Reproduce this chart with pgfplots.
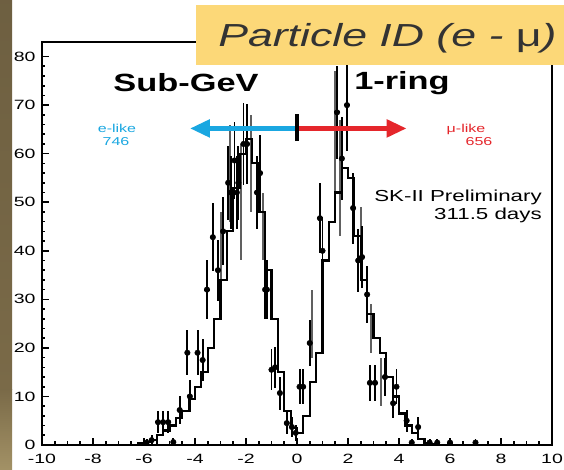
\documentclass[border=0pt]{standalone}
\usepackage{pgfplots}
\pgfplotsset{compat=1.18}
\usepackage{pgfplotstable}
\usepackage{fontspec}
\setmainfont{Liberation Sans}
\usetikzlibrary{arrows.meta}
\definecolor{elike}{HTML}{1AA7E1}
\definecolor{mulike}{HTML}{E5262B}
\definecolor{titlebox}{HTML}{FCD878}
\definecolor{marbleA}{HTML}{7A6A48}
\definecolor{marbleB}{HTML}{A39266}

% Monte Carlo expectation, left bin edges (width 0.25)
\pgfplotstableread{
x y
-7.00 0
-6.25 0.3
-6.00 0.6
-5.75 1.0
-5.50 2.0
-5.25 3.0
-5.00 4.0
-4.75 5.5
-4.50 7.0
-4.25 9.5
-4.00 12
-3.75 15
-3.50 20
-3.25 26
-3.00 34
-2.75 44
-2.50 53
-2.25 60
-2.00 63
-1.75 58
-1.50 48
-1.25 36
-1.00 26
-0.75 15
-0.50 7
-0.25 3.5
 0.00 2.5
 0.25 6
 0.50 13
 0.75 19
 1.00 38
 1.25 46
 1.50 52
 1.75 57
 2.00 55
 2.25 43
 2.50 34
 2.75 27
 3.00 22
 3.25 19
 3.50 14
 3.75 10
 4.00 6.5
 4.25 4
 4.50 2.5
 4.75 1.2
 5.00 0.4
 5.25 0.1
 5.50 0
10.00 0
}\mchist

% SK-II data points
\pgfplotstableread{
x y ex ey
-5.90 0.5 0.1 0.7
-5.70 1.0 0.1 1.0
-5.45 4.7 0.1 2.3
-5.25 4.7 0.1 2.3
-5.05 4.7 0.1 2.3
-4.85 0.6 0.1 0.8
-4.60 7.2 0.1 2.8
-4.30 19 0.1 4.6
-4.20 10 0.1 3.3
-3.90 19 0.1 4.6
-3.70 17.5 0.1 4.4
-3.53 32 0.1 6
-3.30 42.8 0.1 7
-3.10 36 0.1 6.3
-2.90 44 0.1 7
-2.70 54 0.1 7.6
-2.60 52 0.1 7.5
-2.45 58.6 0.1 8
-2.36 52 0.1 7.5
-2.30 54 0.1 7.6
-2.10 62 0.1 8.5
-1.96 62 0.1 8.2
-1.57 52 0.1 7.5
-1.45 56 0.1 7.8
-1.25 32 0.1 6
-1.18 32 0.1 6
-1.00 15.5 0.1 4.2
-0.86 16 0.1 4.2
-0.67 10.7 0.1 3.4
-0.40 4.5 0.1 2.3
-0.20 3.7 0.1 2.0
-0.05 2.5 0.1 1.7
 0.10 12 0.1 3.6
 0.24 12 0.1 3.6
 0.50 21 0.1 4.8
 0.90 46.7 0.1 7.2
 1.00 40 0.1 6.6
 1.57 68.5 0.1 9.5
 1.76 59 0.1 8.5
 1.96 70 0.1 9.5
 2.20 48.8 0.1 7.3
 2.40 38 0.1 6.4
 2.55 38.7 0.1 6.4
 2.75 31 0.1 5.8
 2.86 12.8 0.1 3.7
 3.06 12.8 0.1 3.7
 3.45 14 0.1 3.9
 3.77 8.6 0.1 3.1
 3.90 12 0.1 3.6
 4.30 5 0.1 2.3
 4.50 0.5 0.1 0.7
 4.75 3.7 0.1 2.0
 5.20 0.5 0.1 0.7
 5.50 0.5 0.1 0.7
 6.00 0.5 0.1 0.7
 7.00 0.5 0.1 0.7
}\skdata

% overlapping data from the alternative selection
\pgfplotstableread{
x y ey
-3.00 40 8
-2.62 56 10
-2.20 50 12
-1.80 58 10
-1.35 45 7
 0.60 25 7
 1.50 62 15
 1.70 55 12
 2.50 42 7
 2.90 24 5
 3.30 13 5
}\altdata

\begin{document}
\begin{tikzpicture}
\useasboundingbox (0bp,0bp) rectangle (564bp,470bp);
\begin{scope}[x=1bp,y=1bp]
\fill[white] (0,0) rectangle (564,470);
% marbled slide border
\shade[top color=marbleA!90!black, bottom color=marbleA] (0,80) rectangle (12,470);
\shade[top color=marbleA, bottom color=marbleB] (0,0) rectangle (12,80);
\end{scope}

\begin{axis}[
  at={(42bp,25bp)}, anchor=south west,
  scale only axis, width=510bp, height=403bp,
  xmin=-10, xmax=10, ymin=0, ymax=83,
  tick pos=left, tick align=inside,
  xtick={-10,-8,...,10}, minor x tick num=3,
  xticklabels={-10,-8,-6,-4,-2,0,2,4,6,8,10},
  ytick={0,10,...,80}, minor y tick num=4,
  major tick length=7bp, minor tick length=3.5bp,
  every tick/.style={black, line width=1.6bp},
  ticklabel style={font=\fontsize{13.5}{14}\selectfont, xscale=1.45},
  xticklabel style={yshift=-6bp},
  yticklabel style={xshift=-1bp},
  /pgf/number format/assume math mode=true,
  clip=false,
]
\addplot[gray!70!black, line width=1.6bp, draw=none, forget plot,
  error bars/.cd, y dir=both, y explicit, error mark=none,
  error bar style={line width=2bp, gray!75!black}]
  table[x=x, y=y, y error=ey] {\altdata};
\addplot[const plot, black, line width=2.2bp] table[x=x, y=y] {\mchist};
\addplot[only marks, mark=*, mark size=2.8bp, black,
  error bars/.cd, x dir=both, x explicit, y dir=both, y explicit, error mark=none,
  error bar style={line width=1.9bp, black}]
  table[x=x, y=y, x error=ex, y error=ey] {\skdata};

% e-like / mu-like selection arrows
\draw[elike, line width=5bp, -{Triangle[length=20bp, width=17bp]}]
  (axis cs:0,65.2) -- (axis cs:-4.2,65.2);
\draw[mulike, line width=5bp, -{Triangle[length=20bp, width=17bp]}]
  (axis cs:0,65.2) -- (axis cs:4.3,65.2);
\draw[black, line width=4bp] (axis cs:0,62.6) -- (axis cs:0,68.2);
% heavy frame
\draw[black, line width=2.4bp] (rel axis cs:0,0) rectangle (rel axis cs:1,1);
\end{axis}

\begin{scope}[x=1bp,y=1bp]
% title banner
\fill[titlebox] (196,405) rectangle (570,465);
\node[anchor=west, text=black!80, font=\fontsize{32}{36}\selectfont\itshape, xscale=1.4, inner sep=0pt]
  at (218,432) {Particle ID (e - \textup{μ})};
% annotations
\node[font=\fontsize{25}{28}\selectfont\bfseries, xscale=1.38] at (186,387) {Sub-GeV};
\node[font=\fontsize{25}{28}\selectfont\bfseries, xscale=1.38] at (402,387) {1-ring};
\node[text=elike, font=\fontsize{11.5}{12}\selectfont, xscale=1.4] at (117,342) {e-like};
\node[text=elike, font=\fontsize{11.5}{12}\selectfont, xscale=1.4] at (116,328) {746};
\node[text=mulike, font=\fontsize{11.5}{12}\selectfont, xscale=1.4] at (466,341) {μ-like};
\node[text=mulike, font=\fontsize{11.5}{12}\selectfont, xscale=1.4] at (479,328) {656};
\node[anchor=east, font=\fontsize{16}{18}\selectfont, xscale=1.4, inner sep=0pt] at (542,273) {SK-II Preliminary};
\node[anchor=east, font=\fontsize{16}{18}\selectfont, xscale=1.4, inner sep=0pt] at (542,255) {311.5 days};
\end{scope}
\end{tikzpicture}
\end{document}
